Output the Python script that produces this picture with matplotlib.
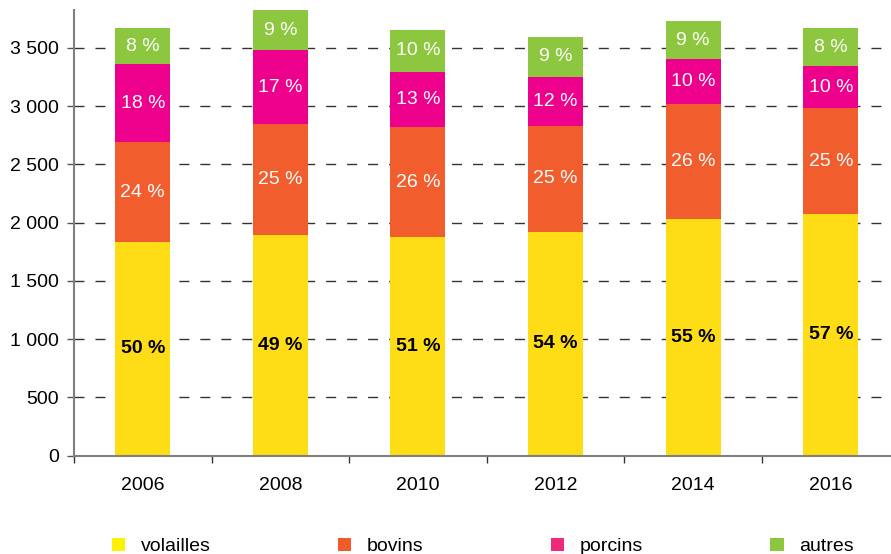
import numpy as np
import matplotlib
matplotlib.use('Agg')
import matplotlib.pyplot as plt
from matplotlib.patches import Patch
from matplotlib.ticker import FuncFormatter

plt.rcParams['font.family'] = ['Liberation Sans', 'DejaVu Sans']

# data
years = ['2006', '2008', '2010', '2012', '2014', '2016']
volailles = [1833, 1893, 1876, 1919, 2031, 2073]
bovins = [858, 952, 944, 910, 986, 910]
porcins = [669, 636, 472, 420, 386, 360]
autres = [309, 339, 360, 343, 326, 326]

pct_volailles = [50, 49, 51, 54, 55, 57]
pct_bovins = [24, 25, 26, 25, 26, 25]
pct_porcins = [18, 17, 13, 12, 10, 10]
pct_autres = [8, 9, 10, 9, 9, 8]

series_names = ['volailles', 'bovins', 'porcins', 'autres']
bar_colors = ['#FEDD16', '#F15D2C', '#EC008C', '#8DC63F']
legend_colors = ['#FFF200', '#F15A29', '#EE2A7B', '#8DC63F']
yticks = [0, 500, 1000, 1500, 2000, 2500, 3000, 3500]

fs = 14
fig = plt.figure(figsize=(8.91, 5.54), dpi=100)
ax = fig.add_axes([0.083, 0.1774, 0.9266, 0.8038])

x = np.arange(len(years))
series = [volailles, bovins, porcins, autres]
pcts = [pct_volailles, pct_bovins, pct_porcins, pct_autres]
bottom = np.zeros(len(years))
for i, (vals, pc) in enumerate(zip(series, pcts)):
    vals = np.array(vals, dtype=float)
    ax.bar(x, vals, 0.4, bottom=bottom, color=bar_colors[i], zorder=2, linewidth=0)
    for xi, b, v, p in zip(x, bottom, vals, pc):
        if i == 0:
            ax.text(xi, b + v / 2, f'{p} %', ha='center', va='center',
                    fontsize=fs, fontweight='bold', color='black', zorder=3)
        else:
            ax.text(xi, b + v / 2, f'{p} %', ha='center', va='center',
                    fontsize=fs, color='white', zorder=3)
    bottom = bottom + vals

ax.set_xlim(-0.5, 5.5)
ax.set_ylim(0, 3820)
ax.set_yticks(yticks)
ax.yaxis.set_major_formatter(FuncFormatter(lambda v, p: f'{int(v):,}'.replace(',', ' ')))
ax.yaxis.grid(True, color='#333333', linewidth=1, linestyle=(0, (7.2, 7.9)), zorder=0)
ax.set_axisbelow(True)

ax.set_xticks(x)
ax.set_xticklabels(years)
ax.set_xticks(np.arange(-0.5, 6.0, 1.0), minor=True)
ax.tick_params(axis='x', which='major', length=0, pad=15, labelsize=fs)
ax.tick_params(axis='x', which='minor', length=5, width=1, color='#333333', direction='out')
ax.tick_params(axis='y', length=5, width=1, color='#555555', pad=6, labelsize=fs)

for s in ['top', 'right']:
    ax.spines[s].set_visible(False)
for s in ['left', 'bottom']:
    ax.spines[s].set_color('#7f7f7f')
    ax.spines[s].set_linewidth(1.5)

handles = [Patch(facecolor=c, edgecolor='none') for c in legend_colors]
fig.legend(handles, series_names, ncol=4, loc='center', bbox_to_anchor=(0.542, 0.014),
           frameon=False, fontsize=fs, handlelength=0.67, handleheight=0.67,
           handletextpad=0.82, columnspacing=6.55)

fig.savefig('out.png', dpi=100)
